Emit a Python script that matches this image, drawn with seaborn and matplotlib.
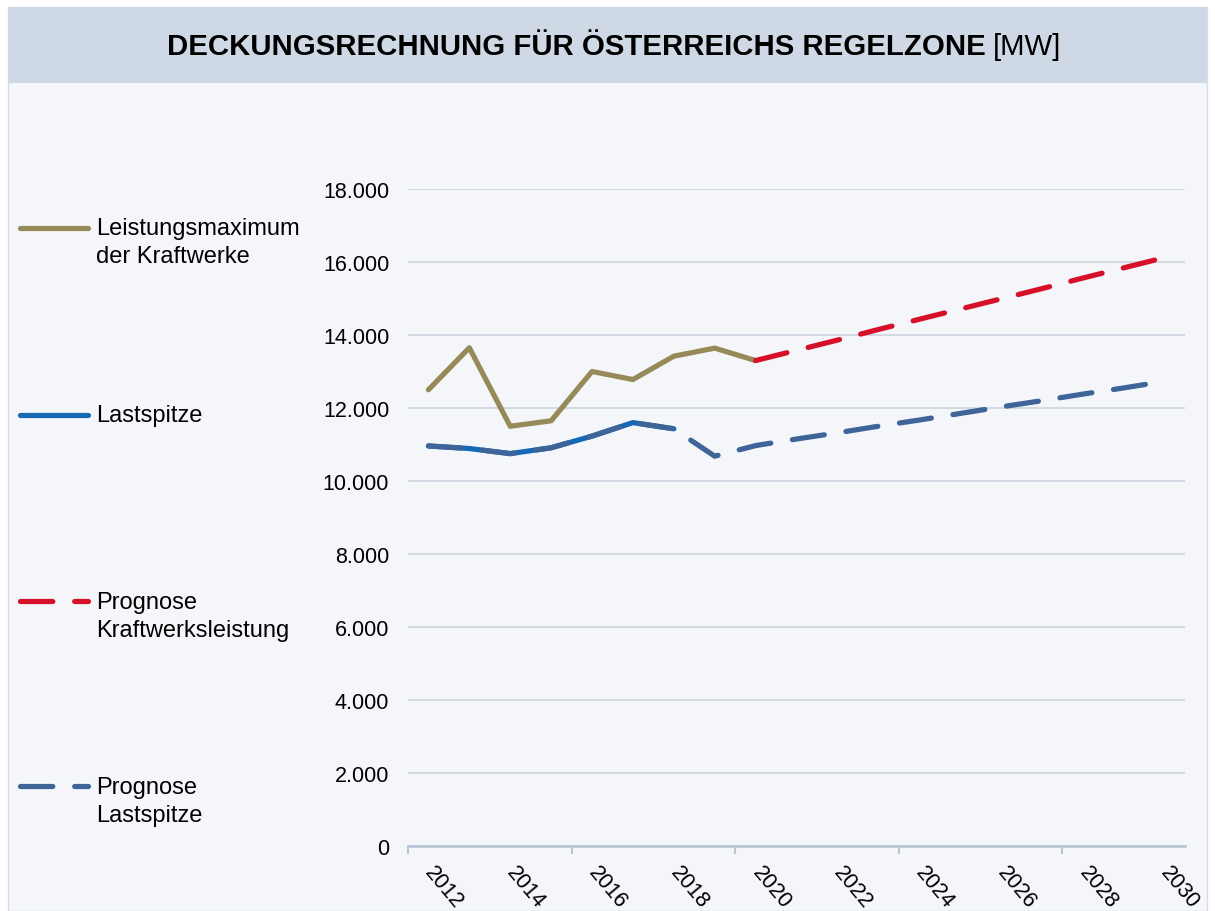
import numpy as np
import pandas as pd
import matplotlib
matplotlib.use("Agg")
import matplotlib.pyplot as plt
import seaborn as sns
from matplotlib.patches import Rectangle
from matplotlib.lines import Line2D
from matplotlib.ticker import FuncFormatter, FixedLocator

#%% data (MW)
years_max = [2012, 2013, 2014, 2015, 2016, 2017, 2018, 2019, 2020]
leistungsmaximum = [12500, 13650, 11500, 11650, 13000, 12780, 13420, 13640, 13300]

years_last = [2012, 2013, 2014, 2015, 2016, 2017, 2018]
lastspitze = [10960, 10890, 10750, 10910, 11230, 11600, 11430]

years_prog_kw = [2020, 2021, 2022, 2023, 2024, 2025, 2026, 2027, 2028, 2029, 2030]
prognose_kw = [13300, 13580, 13860, 14150, 14430, 14710, 14990, 15270, 15560, 15840, 16120]

years_prog_last = [2012, 2013, 2014, 2015, 2016, 2017, 2018, 2019, 2020, 2021,
                   2022, 2023, 2024, 2025, 2026, 2027, 2028, 2029, 2030]
prognose_last = [10960, 10890, 10750, 10910, 11230, 11600, 11430, 10680, 10970, 11150,
                 11320, 11500, 11670, 11850, 12030, 12200, 12380, 12550, 12730]

tick_years = [2012, 2014, 2016, 2018, 2020, 2022, 2024, 2026, 2028, 2030]

labels = ["Leistungsmaximum\nder Kraftwerke", "Lastspitze",
          "Prognose\nKraftwerksleistung", "Prognose\nLastspitze"]

#%% styles
c_max = "#968B58"
c_last = "#1569B3"
c_pkw = "#D7102A"
c_plast = "#3E6498"
lw = 3.75
dash = (0, (6.2, 4.2))
bg = "#F4F6FA"
band = "#CFD9E5"
grid_c = "#C9D1DD"
axis_c = "#B9C6D6"

sns.set_theme(style="white")
plt.rcParams["font.family"] = ["Liberation Sans", "DejaVu Sans"]

W, H = 1215, 912
fig = plt.figure(figsize=(12.15, 9.12), dpi=100)
fig.patch.set_facecolor("white")

# panel + title band
fig.add_artist(Rectangle((8 / W, 0), 1199 / W, 904 / H, transform=fig.transFigure,
                         facecolor=bg, edgecolor="#D3DDEA", lw=1, zorder=-2))
fig.add_artist(Rectangle((8 / W, 1 - 84 / H), 1199 / W, 76 / H, transform=fig.transFigure,
                         facecolor=band, edgecolor="none", zorder=-1))
fig.text(986 / W, 1 - 47 / H, "DECKUNGSRECHNUNG FÜR ÖSTERREICHS REGELZONE",
         ha="right", va="center", fontsize=21.2, fontweight="bold", color="black")
fig.text(993 / W, 1 - 47 / H, "[MW]", ha="left", va="center", fontsize=21.2, color="black")

#%% axes
ax = fig.add_axes([408 / W, 1 - 847 / H, 777 / W, 657 / H])
ax.set_facecolor(bg)

sns.lineplot(x=years_last, y=lastspitze, ax=ax, color=c_last, linewidth=lw,
             solid_joinstyle="round", solid_capstyle="round", zorder=2)
sns.lineplot(x=years_prog_last, y=prognose_last, ax=ax, color=c_plast, linewidth=lw,
             linestyle=dash, dash_capstyle="round", dash_joinstyle="round", zorder=3)
sns.lineplot(x=years_max, y=leistungsmaximum, ax=ax, color=c_max, linewidth=lw,
             solid_joinstyle="round", solid_capstyle="round", zorder=4)
sns.lineplot(x=years_prog_kw, y=prognose_kw, ax=ax, color=c_pkw, linewidth=lw,
             linestyle=dash, dash_capstyle="round", dash_joinstyle="round", zorder=5)

ax.set_xlim(2011.5, 2030.5)
ax.set_ylim(0, 18000)
ax.set_yticks(np.arange(0, 18001, 2000))
ax.yaxis.set_major_formatter(FuncFormatter(lambda v, p: f"{int(v):,}".replace(",", ".")))
ax.set_xticks(tick_years)
ax.set_xticklabels([str(y) for y in tick_years])
ax.xaxis.set_minor_locator(FixedLocator([2011.5, 2015.5, 2019.5, 2023.5, 2027.5]))
ax.tick_params(axis="x", which="major", length=0, pad=16, labelsize=15.5, colors="black")
ax.tick_params(axis="x", which="minor", length=6, width=1.5, color=axis_c, bottom=True)
ax.tick_params(axis="y", length=0, pad=13.5, labelsize=15.5, colors="black")
for t in ax.get_xticklabels():
    t.set_rotation(-50)
    t.set_ha("left")
    t.set_va("center")
    t.set_rotation_mode("anchor")

ax.grid(axis="y", color=grid_c, linewidth=1.1)
ax.set_axisbelow(True)
for s in ["top", "right", "left"]:
    ax.spines[s].set_visible(False)
ax.spines["bottom"].set_color(axis_c)
ax.spines["bottom"].set_linewidth(2)
ax.set_xlabel("")
ax.set_ylabel("")

#%% legend on the left, drawn by hand
leg_y = [243, 416, 617, 802]
leg_line_y = [229, 416, 602, 787]
leg_cols = [c_max, c_last, c_pkw, c_plast]
leg_style = ["-", "-", dash, dash]
for lab, yt, yl, c, st in zip(labels, leg_y, leg_line_y, leg_cols, leg_style):
    fig.add_artist(Line2D([20 / W, 88 / W], [1 - yl / H, 1 - yl / H], transform=fig.transFigure,
                          color=c, linewidth=lw, linestyle=st,
                          solid_capstyle="round", dash_capstyle="round"))
    fig.text(96 / W, 1 - yt / H, lab, ha="left", va="center", fontsize=17,
             linespacing=1.3, color="black")

fig.savefig("out.png", dpi=100, facecolor=fig.get_facecolor())
